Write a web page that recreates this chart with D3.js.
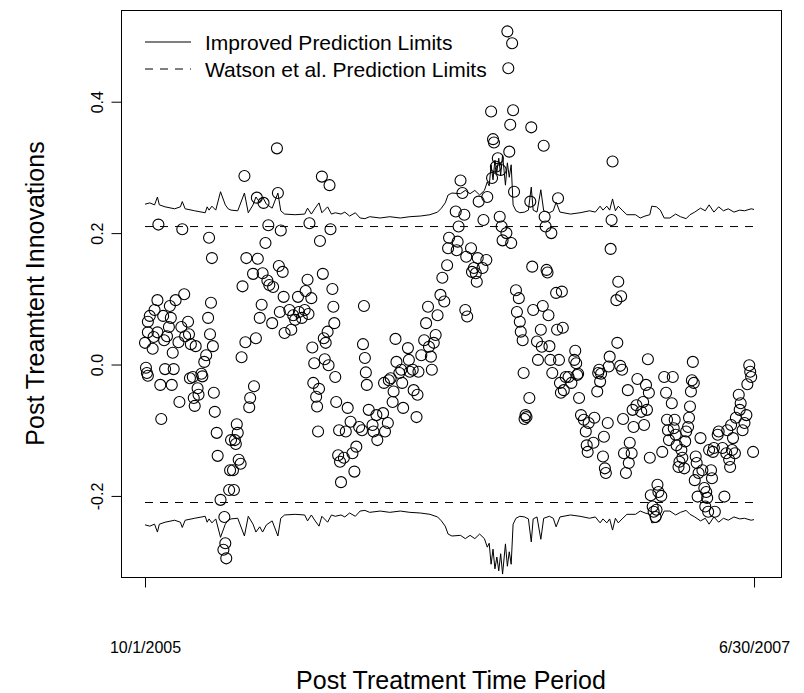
<!DOCTYPE html>
<html>
<head>
<meta charset="utf-8">
<script src="https://cdn.jsdelivr.net/npm/d3@7"></script>
<style>
  body { margin: 0; background: #fff; }
  text { font-family: "Liberation Sans", Arial, Helvetica, sans-serif; }
</style>
</head>
<body>
<div id="chart"></div>
<script>
// innovations: [day since 10/1/2005, value]
const innovations = [
  [0,0.033],[1,-0.005],[2,-0.013],[3,-0.017],[3,0.065],[3,0.049],[5,0.074],[8,0.024],[9,0.042],[10,0.083],
  [13,0.098],[13,0.049],[14,0.213],[16,-0.031],[17,-0.083],[19,0.074],[20,0.037],[21,-0.007],[23,0.043],[25,0.057],
  [26,0.089],[27,0.071],[28,-0.031],[29,0.018],[30,-0.007],[32,0.098],[35,0.034],[36,-0.057],[38,0.057],[39,0.206],
  [41,0.107],[42,0.043],[45,0.065],[46,0.046],[47,-0.021],[48,0.031],[50,-0.019],[51,-0.051],[52,-0.063],[53,0.028],
  [55,-0.036],[56,-0.046],[59,-0.014],[60,-0.018],[62,0.004],[64,0.014],[66,0.071],[67,0.193],[68,0.046],[69,0.094],
  [70,0.162],[71,0.028],[72,-0.043],[73,-0.072],[75,-0.104],[76,-0.139],[79,-0.206],[82,-0.282],[83,-0.232],[84,-0.272],
  [85,-0.295],[88,-0.191],[89,-0.161],[90,-0.115],[92,-0.161],[93,-0.191],[94,-0.115],[95,-0.121],[96,-0.091],[97,-0.104],
  [98,-0.145],[100,-0.151],[101,0.011],[102,0.119],[104,0.287],[105,0.034],[106,0.162],[109,-0.065],[110,-0.051],[113,0.138],
  [114,-0.033],[116,0.040],[117,0.254],[118,0.161],[120,0.071],[122,0.091],[123,0.139],[124,0.246],[126,0.185],[128,0.128],
  [129,0.212],[130,0.121],[133,0.063],[134,0.118],[138,0.329],[139,0.261],[140,0.150],[141,0.080],[142,0.204],[144,0.141],
  [145,0.103],[146,0.048],[151,0.083],[153,0.053],[155,0.075],[157,0.068],[160,0.103],[161,0.080],[164,0.071],[167,0.083],
  [168,0.112],[170,0.129],[171,0.077],[172,0.215],[174,0.101],[175,0.026],[176,-0.028],[177,0.002],[179,-0.049],[180,-0.064],
  [181,-0.102],[182,-0.037],[183,0.188],[185,0.286],[186,0.138],[187,0.040],[188,0.008],[189,0.033],[191,0.050],[192,-0.001],
  [193,0.273],[194,0.206],[196,0.115],[197,0.088],[198,0.063],[199,-0.019],[200,-0.057],[202,-0.138],[203,-0.100],[204,-0.148],
  [205,-0.179],[208,-0.142],[210,-0.102],[212,-0.066],[215,-0.087],[217,-0.135],[219,-0.163],[221,-0.125],[224,-0.095],[227,-0.100],
  [228,0.031],[229,0.089],[230,0.010],[231,-0.012],[232,-0.031],[234,-0.069],[238,-0.092],[239,-0.102],[242,-0.077],[243,-0.115],
  [249,-0.074],[250,-0.028],[251,-0.102],[254,-0.089],[255,-0.024],[257,-0.021],[259,-0.057],[260,-0.041],[262,0.039],[263,0.004],
  [266,-0.013],[268,-0.008],[269,-0.028],[270,-0.066],[275,0.025],[276,0.007],[277,-0.011],[280,-0.008],[281,-0.039],[284,-0.080],
  [285,-0.046],[286,-0.011],[289,0.014],[292,0.037],[294,0.063],[296,0.088],[297,0.027],[299,0.012],[300,-0.008],[302,0.033],
  [304,0.045],[306,0.075],[309,0.106],[311,0.132],[313,0.096],[316,0.151],[317,0.177],[318,0.193],[325,0.233],[326,0.174],
  [327,0.187],[328,0.210],[330,0.280],[332,0.261],[334,0.228],[335,0.083],[336,0.164],[337,0.073],[341,0.177],[342,0.141],
  [344,0.147],[346,0.139],[347,0.126],[348,0.162],[349,0.248],[353,0.147],[354,0.220],[357,0.159],[358,0.255],[362,0.385],
  [363,0.284],[364,0.343],[365,0.338],[367,0.301],[369,0.314],[371,0.225],[372,0.296],[373,0.210],[374,0.189],[378,0.200],
  [379,0.507],[380,0.451],[381,0.324],[382,0.365],[383,0.185],[384,0.489],[385,0.387],[386,0.263],[388,0.113],[389,0.080],
  [391,0.101],[392,0.065],[393,0.050],[395,0.037],[396,-0.013],[397,-0.083],[398,-0.077],[399,-0.080],[402,-0.051],[403,0.248],
  [404,0.361],[405,0.149],[406,0.083],[410,0.035],[411,0.007],[414,0.053],[415,0.027],[416,0.089],[417,0.333],[418,0.225],
  [419,0.210],[420,0.144],[421,0.140],[422,0.075],[423,0.028],[424,0.007],[425,0.200],[426,-0.013],[430,0.109],[431,0.053],
  [432,0.253],[433,0.007],[434,-0.028],[435,-0.043],[436,0.111],[437,0.056],[438,-0.039],[440,-0.019],[443,-0.019],[446,-0.028],
  [449,0.007],[450,0.021],[451,0.002],[452,-0.016],[453,-0.014],[454,-0.051],[456,-0.077],[459,-0.084],[461,-0.102],[462,-0.123],
  [463,-0.133],[464,-0.089],[469,-0.119],[470,-0.081],[473,-0.041],[474,-0.013],[475,-0.008],[476,-0.026],[477,-0.014],[479,-0.140],
  [480,-0.110],[481,-0.158],[482,-0.165],[484,-0.089],[485,-0.003],[486,0.012],[487,0.176],[488,0.220],[489,0.309],[493,0.098],
  [494,0.033],[495,0.126],[497,-0.002],[498,0.104],[499,-0.008],[500,-0.083],[501,-0.135],[503,-0.165],[505,-0.039],[506,-0.150],
  [507,-0.119],[509,-0.135],[510,-0.069],[511,-0.095],[514,-0.062],[515,-0.022],[519,-0.072],[521,-0.057],[522,-0.092],[524,-0.031],
  [525,-0.069],[526,0.008],[527,-0.043],[528,-0.142],[529,-0.199],[531,-0.216],[532,-0.224],[534,-0.232],[535,-0.221],[536,-0.183],
  [537,-0.194],[540,-0.200],[541,-0.133],[543,-0.019],[545,-0.043],[546,-0.084],[547,-0.100],[548,-0.115],[551,-0.059],[552,-0.019],
  [553,-0.097],[554,-0.084],[555,-0.107],[556,-0.123],[558,-0.156],[559,-0.148],[561,-0.130],[562,-0.142],[564,-0.158],[565,-0.117],
  [566,-0.102],[568,-0.095],[569,-0.081],[570,-0.064],[571,-0.041],[572,-0.024],[573,0.004],[574,-0.028],[575,-0.176],[576,-0.140],
  [577,-0.150],[578,-0.201],[579,-0.165],[581,-0.112],[583,-0.161],[585,-0.188],[586,-0.216],[587,-0.194],[588,-0.203],[589,-0.224],
  [590,-0.130],[592,-0.161],[593,-0.173],[594,-0.133],[595,-0.127],[596,-0.224],[599,-0.107],[600,-0.102],[604,-0.127],[606,-0.201],
  [608,-0.135],[609,-0.100],[611,-0.145],[612,-0.156],[613,-0.092],[614,-0.130],[615,-0.112],[617,-0.135],[618,-0.081],[621,-0.046],
  [622,-0.069],[623,-0.059],[625,-0.100],[627,-0.089],[629,-0.077],[630,-0.030],[632,-0.001],[633,-0.011],[634,-0.019],[636,-0.133]
];

// improved prediction limit half-width: [day, value]; drawn as +/- value
const improvedLimit = [
  [0,0.244],[5,0.246],[10,0.243],[13,0.255],[15,0.243],[21,0.240],[31,0.237],[37,0.240],[39,0.248],[42,0.237],
  [52,0.234],[63,0.231],[65,0.240],[67,0.235],[70,0.241],[74,0.235],[79,0.263],[84,0.243],[87,0.237],[90,0.235],
  [97,0.234],[104,0.261],[108,0.231],[113,0.243],[116,0.255],[120,0.247],[123,0.255],[127,0.244],[133,0.238],[139,0.261],
  [142,0.234],[146,0.229],[157,0.228],[167,0.229],[170,0.238],[174,0.229],[178,0.238],[182,0.246],[185,0.231],[191,0.240],
  [195,0.229],[199,0.231],[205,0.229],[209,0.232],[214,0.226],[220,0.231],[225,0.223],[230,0.222],[235,0.225],[246,0.223],
  [256,0.225],[267,0.223],[277,0.225],[288,0.226],[298,0.228],[306,0.232],[310,0.238],[314,0.246],[317,0.258],[321,0.261],
  [330,0.260],[335,0.265],[340,0.260],[345,0.265],[350,0.258],[355,0.265],[358,0.278],[360,0.272],[362,0.304],[364,0.281],
  [366,0.311],[368,0.293],[370,0.314],[372,0.288],[374,0.319],[377,0.273],[379,0.307],[381,0.285],[383,0.304],[385,0.243],
  [388,0.234],[392,0.231],[397,0.232],[401,0.235],[404,0.270],[406,0.235],[410,0.232],[414,0.266],[417,0.234],[423,0.231],
  [427,0.234],[430,0.247],[434,0.232],[445,0.229],[455,0.231],[465,0.234],[471,0.232],[476,0.241],[479,0.235],[483,0.241],
  [486,0.235],[489,0.252],[492,0.234],[495,0.241],[499,0.235],[504,0.228],[513,0.228],[518,0.223],[523,0.226],[528,0.228],
  [530,0.241],[535,0.240],[539,0.235],[543,0.223],[549,0.223],[555,0.229],[560,0.225],[566,0.222],[570,0.228],[575,0.232],
  [581,0.238],[586,0.234],[590,0.243],[595,0.232],[600,0.240],[605,0.234],[610,0.237],[616,0.232],[622,0.235],[627,0.234],
  [634,0.237],[637,0.236]
];

const watsonLimit = 0.21;
const seriesStart = 0, seriesEnd = 637;
const yTicks = [-0.2, 0.0, 0.2, 0.4];
const xTickDays = [0, 637];
const xTickLabels = ["10/1/2005", "6/30/2007"];
const legendLabels = ["Improved Prediction Limits", "Watson et al. Prediction Limits"];
const xTitle = "Post Treatment Time Period";
const yTitle = "Post Treamtent Innovations";

const width = 804, height = 693;
const box = { left: 121, right: 781, top: 10, bottom: 577 };

const x = d3.scaleLinear().domain([-25.1, 665.2]).range([box.left, box.right]);
const y = d3.scaleLinear().domain([-0.3234, 0.5396]).range([box.bottom, box.top]);

const svg = d3.select("#chart").append("svg")
  .attr("width", width)
  .attr("height", height)
  .style("display", "block");

svg.append("rect").attr("width", width).attr("height", height).attr("fill", "#fff");

// limit lines
const line = d3.line().x(d => x(d[0])).y(d => y(d[1]));

svg.append("path")
  .datum(improvedLimit)
  .attr("fill", "none").attr("stroke", "#000").attr("stroke-width", 1)
  .attr("d", line);

svg.append("path")
  .datum(improvedLimit.map(d => [d[0], -d[1]]))
  .attr("fill", "none").attr("stroke", "#000").attr("stroke-width", 1)
  .attr("d", line);

[watsonLimit, -watsonLimit].forEach(v => {
  svg.append("path")
    .datum([[seriesStart, v], [seriesEnd, v]])
    .attr("fill", "none").attr("stroke", "#000").attr("stroke-width", 1)
    .attr("stroke-dasharray", "8,7")
    .attr("d", line);
});

// points
svg.append("g")
  .selectAll("circle")
  .data(innovations)
  .enter()
  .append("circle")
  .attr("cx", d => x(d[0]))
  .attr("cy", d => y(d[1]))
  .attr("r", 5.5)
  .attr("fill", "none")
  .attr("stroke", "#000")
  .attr("stroke-width", 1.1);

// box
svg.append("rect")
  .attr("x", box.left + 0.5).attr("y", box.top + 0.5)
  .attr("width", box.right - box.left).attr("height", box.bottom - box.top)
  .attr("fill", "none").attr("stroke", "#000").attr("stroke-width", 1);

// axes
const yAxis = svg.append("g")
  .attr("transform", `translate(${box.left + 0.5},0)`)
  .call(d3.axisLeft(y).tickValues(yTicks).tickSize(10).tickFormat(d => d.toFixed(1)));
yAxis.select(".domain").remove();
yAxis.selectAll("text")
  .attr("transform", "rotate(-90)")
  .attr("x", 0).attr("y", -19).attr("dy", 0)
  .attr("text-anchor", "middle")
  .attr("font-size", 16).attr("fill", "#000")
  .style("font-family", "\"Liberation Sans\", Arial, sans-serif");

const xAxis = svg.append("g")
  .attr("transform", `translate(0,${box.bottom + 0.5})`)
  .call(d3.axisBottom(x).tickValues(xTickDays).tickSize(10)
    .tickFormat((d, i) => xTickLabels[i]));
xAxis.select(".domain").remove();
xAxis.selectAll("text")
  .attr("y", 75).attr("dy", 0)
  .attr("font-size", 16).attr("fill", "#000")
  .style("font-family", "\"Liberation Sans\", Arial, sans-serif");

// axis titles
svg.append("text")
  .attr("x", (box.left + box.right) / 2)
  .attr("y", 689)
  .attr("text-anchor", "middle")
  .attr("font-size", 25)
  .text(xTitle);

svg.append("text")
  .attr("transform", `translate(44,${(box.top + box.bottom) / 2}) rotate(-90)`)
  .attr("text-anchor", "middle")
  .attr("font-size", 25)
  .text(yTitle);

// legend
const legend = svg.append("g");
legendLabels.forEach((label, i) => {
  const ly = 42 + i * 27;
  legend.append("line")
    .attr("x1", 145).attr("x2", 191)
    .attr("y1", ly).attr("y2", ly)
    .attr("stroke", "#000").attr("stroke-width", 1)
    .attr("stroke-dasharray", i === 1 ? "8,7" : null);
  legend.append("text")
    .attr("x", 205).attr("y", ly + 7.5)
    .attr("font-size", 21)
    .text(label);
});
</script>
</body>
</html>
